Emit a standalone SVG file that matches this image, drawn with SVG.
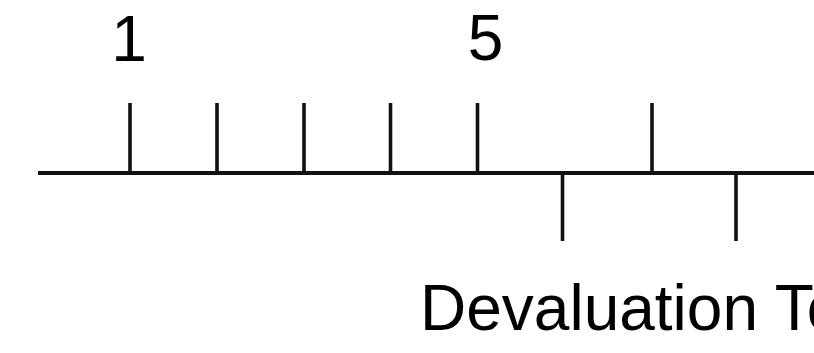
<svg xmlns="http://www.w3.org/2000/svg" width="814" height="353" viewBox="0 0 814 353">
<style>
.ln{stroke:#111;stroke-width:3.6;fill:none}
.axis{stroke:#111;stroke-width:4;fill:none}
.t{font-family:"Liberation Sans",Arial,sans-serif;font-size:64px;fill:#000}
</style>
<rect width="814" height="353" fill="#fff"/>
<g id="axis">
<line class="axis" x1="38" y1="173" x2="814" y2="173"/>
</g>
<g id="connectors">
<line class="ln" x1="130" y1="103" x2="130" y2="173"/>
<line class="ln" x1="217" y1="103" x2="217" y2="173"/>
<line class="ln" x1="304" y1="103" x2="304" y2="173"/>
<line class="ln" x1="390.5" y1="103" x2="390.5" y2="173"/>
<line class="ln" x1="477.5" y1="103" x2="477.5" y2="173"/>
<line class="ln" x1="652" y1="103" x2="652" y2="173"/>
<line class="ln" x1="562.5" y1="173" x2="562.5" y2="241"/>
<line class="ln" x1="736" y1="173" x2="736" y2="241"/>
</g>
<g id="label-1"><text class="t" x="129" y="61" text-anchor="middle">1</text></g>
<g id="label-5"><text class="t" x="485.5" y="60" text-anchor="middle">5</text></g>
<g id="label-devaluation"><text class="t" x="420" y="330">Devaluation To</text></g>
</svg>
